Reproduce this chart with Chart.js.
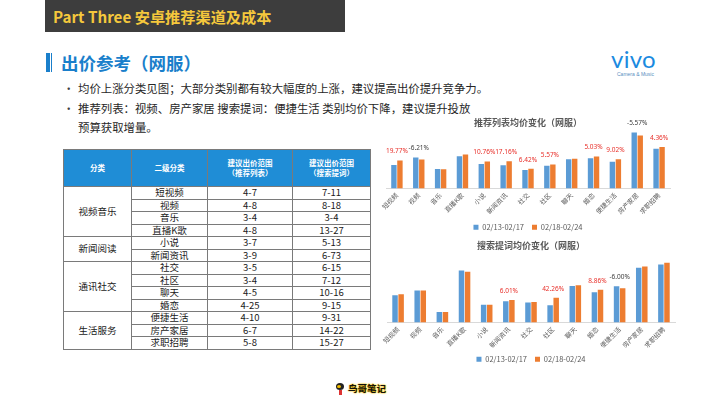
<!DOCTYPE html>
<html><head><meta charset="utf-8">
<script src="https://cdn.jsdelivr.net/npm/chart.js@4.4.1/dist/chart.umd.min.js"></script>
<style>
html,body{margin:0;padding:0;width:720px;height:405px;overflow:hidden;background:#fff;font-family:"Noto Sans CJK SC","Noto Sans",sans-serif;}
.abs{position:absolute;}
#hdr{left:45px;top:0;width:300px;height:32px;background:#3d3d3d;}
#hdr span{position:absolute;left:8px;top:4px;font-size:15.2px;font-weight:bold;color:#f5c83c;line-height:24px;white-space:nowrap;}
.bar1{left:46px;top:53px;width:3.5px;height:19px;background:#1a7fcb;}
.bar2{left:50.5px;top:53px;width:1.5px;height:19px;background:#1a7fcb;}
#ttl{left:61px;top:50px;font-size:17.5px;font-weight:bold;color:#1a7fcb;line-height:26px;white-space:nowrap;}
#bul{left:63px;top:79px;font-size:11.4px;color:#262626;line-height:19.5px;white-space:nowrap;}
#bul div{position:relative;padding-left:15px;}
#bul .b::before{content:"•";position:absolute;left:0;top:0;color:#404040;}
#vivo{left:611px;top:45px;font-family:"Lato","Open Sans",sans-serif;font-weight:400;font-size:24px;color:#1a8ae0;line-height:28px;letter-spacing:0.3px;}
#cam{left:617px;top:71px;font-family:"Liberation Sans",sans-serif;font-size:5px;color:#5a8fc0;line-height:6px;white-space:nowrap;}
table{position:absolute;left:63px;top:149px;width:307px;border-collapse:collapse;table-layout:fixed;font-size:9.5px;color:#1a1a1a;}
td,th{padding:0;text-align:center;border:1px solid #7a7a7a;}
th{background:#1f8dd6;color:#fff;font-weight:bold;font-size:7.5px;height:36px;line-height:10px;}
td{height:10.6px;line-height:11.5px;}
td.in{border-top:1px solid #c8c8c8;}
td.grp{border-top:1px solid #404040;}
#foot{left:348px;top:381px;font-size:9.5px;font-weight:bold;color:#111;line-height:14px;text-shadow:0 0 1px #f5c000,0 0 1px #f5c000,0 0 2px #f5c000;white-space:nowrap;}
</style></head>
<body>
<div id="hdr" class="abs"><span>Part Three 安卓推荐渠道及成本</span></div>
<div class="abs bar1"></div><div class="abs bar2"></div>
<div id="ttl" class="abs">出价参考（网服）</div>
<div id="bul" class="abs">
<div class="b">均价上涨分类见图；大部分类别都有较大幅度的上涨，建议提高出价提升竞争力。</div>
<div class="b">推荐列表：视频、房产家居 搜索提词：便捷生活 类别均价下降，建议提升投放</div>
<div>预算获取增量。</div>
</div>
<div id="vivo" class="abs">vivo</div>
<div id="cam" class="abs">Camera &amp; Music</div>
<table id="tbl"></table>
<div class="abs" style="left:336px;top:383px;width:8px;height:7px;border-radius:50%;background:#222;"></div>
<div class="abs" style="left:337px;top:385px;width:4px;height:3px;border-radius:50%;background:#f5c000;"></div>
<div class="abs" style="left:339px;top:390px;width:3px;height:5px;background:#d33;"></div>
<div id="foot" class="abs">鸟哥笔记</div>
<div class="abs" style="left:370px;top:113px;"><canvas id="c1" width="320" height="128"></canvas></div>
<div class="abs" style="left:370px;top:236px;"><canvas id="c2" width="320" height="137"></canvas></div>
<script>
// ---- data ----
const categories = ['短视频','视频','音乐','直播K歌','小说','新闻资讯','社交','社区','聊天','婚恋','便捷生活','房产家居','求职招聘'];
const groupNames = ['视频音乐','新闻阅读','通讯社交','生活服务'];
const groupSizes = [4,2,4,3];
const recRange = ['4-7','4-8','3-4','4-8','3-7','3-9','3-5','3-4','4-5','4-25','4-10','6-7','5-8'];
const searchRange = ['7-11','8-18','3-4','13-27','5-13','6-73','6-15','7-12','10-16','9-15','9-31','14-22','15-27'];
const seriesNames = ['02/13-02/17','02/18-02/24'];
const recWeek1 = [2.40,3.17,2.00,3.30,2.50,2.37,1.90,2.33,3.00,3.10,2.73,5.73,4.07];
const recWeek2 = [2.87,2.97,1.97,3.47,2.77,2.78,2.02,2.46,3.03,3.26,2.98,5.41,4.25];
const recChange = ['19.77%','-6.21%','','','10.76%','17.16%','6.42%','5.57%','','5.03%','9.02%','-5.57%','4.36%'];
const srchWeek1 = [2.77,3.27,1.07,5.30,1.80,2.17,2.03,1.77,3.73,3.07,3.70,5.57,5.90];
const srchWeek2 = [2.87,3.27,1.07,5.17,1.80,2.30,2.10,2.52,3.80,3.34,3.48,5.70,6.10];
const srchChange = ['','','','','','6.01%','','42.26%','','8.86%','-6.00%','',''];

// ---- table ----
(function(){
  const t = document.getElementById('tbl');
  let h = '<colgroup><col style="width:68px"><col style="width:76px"><col style="width:85px"><col style="width:78px"></colgroup>';
  h += '<tr><th>分类</th><th>二级分类</th><th>建议出价范围<br>（推荐列表）</th><th>建议出价范围<br>（搜索提词）</th></tr>';
  let idx = 0;
  groupNames.forEach((g,gi)=>{
    for(let k=0;k<groupSizes[gi];k++){
      const cls = k===0 ? 'grp' : 'in';
      h += '<tr>';
      if(k===0) h += '<td class="grp" rowspan="'+groupSizes[gi]+'">'+g+'</td>';
      h += '<td class="'+cls+'">'+categories[idx]+'</td><td class="'+cls+'">'+recRange[idx]+'</td><td class="'+cls+'">'+searchRange[idx]+'</td></tr>';
      idx++;
    }
  });
  t.innerHTML = h;
})();

// ---- charts ----
Chart.defaults.font.family = '"Noto Sans CJK SC","Noto Sans",sans-serif';
const pctLabels = {
  id:'pctLabels',
  afterDatasetsDraw(chart, args, opts){
    const ctx = chart.ctx;
    const m0 = chart.getDatasetMeta(0), m1 = chart.getDatasetMeta(1);
    ctx.save();
    ctx.font = '6.5px "Noto Sans","DejaVu Sans",sans-serif';
    ctx.textAlign = 'center'; ctx.textBaseline = 'middle';
    (opts.labels||[]).forEach((t,i)=>{
      if(!t) return;
      const top = Math.min(m0.data[i].y, m1.data[i].y);
      const x = (m0.data[i].x + m1.data[i].x)/2;
      ctx.fillStyle = t.charAt(0)==='-' ? '#404040' : '#e8302a';
      ctx.fillText(t, x, top - 9);
    });
    ctx.restore();
  }
};
function makeChart(id, title, w1, w2, changes, ymax, pad, axisH, titlePad){
  return new Chart(document.getElementById(id), {
    type:'bar',
    data:{labels:categories, datasets:[
      {label:seriesNames[0], data:w1, backgroundColor:'#5b9bd5', categoryPercentage:0.55, barPercentage:0.9},
      {label:seriesNames[1], data:w2, backgroundColor:'#ed7d31', categoryPercentage:0.55, barPercentage:0.9}
    ]},
    options:{
      responsive:false, animation:false,
      layout:{padding:{left:pad[0], right:pad[1], top:0, bottom:0}},
      plugins:{
        title:{display:true, text:title, color:'#595959', font:{size:9, weight:'bold'}, padding:titlePad},
        legend:{position:'bottom', labels:{boxWidth:5, boxHeight:5, color:'#595959', font:{size:7.5}, padding:8}},
        tooltip:{enabled:false},
        pctLabels:{labels:changes}
      },
      scales:{
        x:{grid:{display:false, drawTicks:false}, border:{color:'#d9d9d9'},
           ticks:{minRotation:45, maxRotation:45, autoSkip:false, color:'#595959', font:{size:6.5}, padding:3},
           afterFit(s){ s.height = axisH; s.paddingLeft = 0; s.paddingRight = 0; }},
        y:{display:false, min:0, max:ymax}
      }
    },
    plugins:[pctLabels]
  });
}
makeChart('c1','推荐列表均价变化（网服）', recWeek1, recWeek2, recChange, 6, [16,20], 27, {top:4,bottom:2});
makeChart('c2','搜索提词均价变化（网服）', srchWeek1, srchWeek2, srchChange, 7, [17,15], 25, {top:4,bottom:3});
</script>
</body></html>
